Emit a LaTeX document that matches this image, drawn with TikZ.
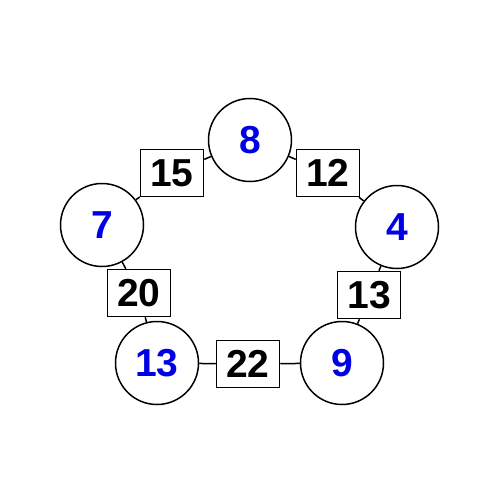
\documentclass[tikz,border=0pt]{standalone}
\usepackage{fontspec}
\setmainfont{Liberation Sans}
\tikzset{
  ring/.style={circle, draw, line width=1.5pt, minimum size=83pt, inner sep=0pt,
    text=blue!90!black, font=\fontsize{39}{41}\selectfont\bfseries},
  weight/.style={rectangle, draw, line width=1.5pt, minimum width=63pt, minimum height=47pt,
    inner sep=0pt, font=\fontsize{39}{41}\selectfont\bfseries}
}
\begin{document}
\begin{tikzpicture}[x=1pt, y=-1pt]
    \useasboundingbox (0,0) rectangle (500,500);
    \node[ring] (n8) at (250,140) {8};
    \node[ring] (n7) at (102,225) {7};
    \node[ring] (n4) at (397,227) {4};
    \node[ring] (n13) at (157,363) {13};
    \node[ring] (n9) at (342,363) {9};
    \node[weight] (w15) at (172,173) {15};
    \node[weight] (w12) at (328,173) {12};
    \node[weight] (w20) at (139,293) {20};
    \node[weight] (w13) at (369,295) {13};
    \node[weight] (w22) at (248,364) {22};
    \draw[line width=1.5pt] (n7) -- (w15) -- (n8) -- (w12) -- (n4) -- (w13) -- (n9)
      -- (w22) -- (n13) -- (w20) -- (n7);
  \end{tikzpicture}
\end{document}
